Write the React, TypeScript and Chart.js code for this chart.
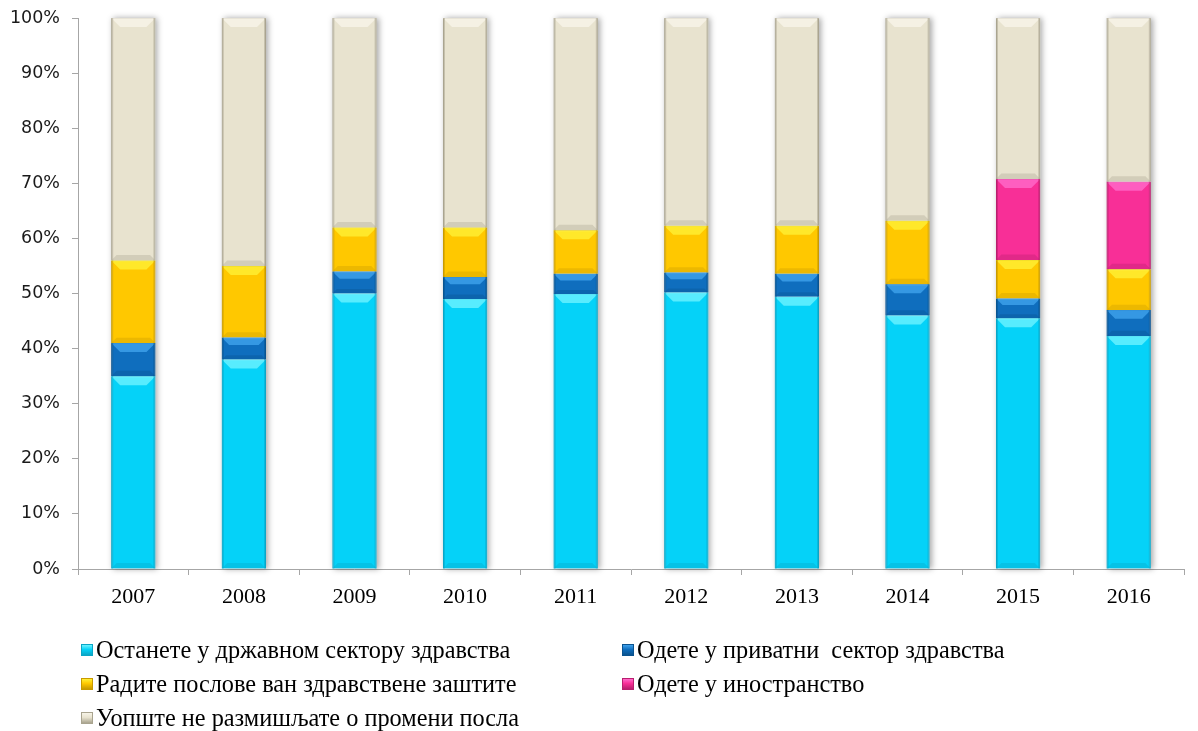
import React, { useEffect, useRef } from "react";
import { Chart, registerables } from "chart.js";

Chart.register(...registerables);

const YEARS = ["2007", "2008", "2009", "2010", "2011", "2012", "2013", "2014", "2015", "2016"];

const STAY_PUBLIC = [35, 38, 50, 49, 49.9, 50.2, 49.4, 46.0, 45.5, 42.3];
const GO_PRIVATE = [6, 4, 4, 4, 3.7, 3.6, 4.2, 5.7, 3.6, 4.7];
const WORK_OUTSIDE = [15, 13, 8, 9, 7.9, 8.5, 8.7, 11.5, 7.0, 7.4];
const GO_ABROAD = [null, null, null, null, null, null, null, null, 14.7, 15.9];
const NO_CHANGE = [44, 45, 38, 38, 38.5, 37.7, 37.7, 36.8, 29.2, 29.7];

const Y_TICKS = [0, 10, 20, 30, 40, 50, 60, 70, 80, 90, 100];

const LABELS = [
  "Останете у државном сектору здравства",
  "Одете у приватни  сектор здравства",
  "Радите послове ван здравствене заштите",
  "Одете у иностранство",
  "Уопште не размишљате о промени посла",
];

const FILL = ["#05D2F8", "#0F6EBE", "#FFC800", "#F82F97", "#E8E3CF"];
const LIGHT = ["#6DF3FF", "#3FA2EC", "#FFF035", "#FF6ACB", "#F7F4E8"];
const DARK = ["#0AA6C6", "#0A538F", "#C89A00", "#B81F6E", "#A9A48F"];

const bevelPlugin = {
  id: "bevel",
  afterDatasetsDraw(chart: any) {
    const ctx = chart.ctx;
    chart.data.datasets.forEach((ds: any, di: number) => {
      const meta = chart.getDatasetMeta(di);
      meta.data.forEach((bar: any, i: number) => {
        if (ds.data[i] == null) return;
        const { x, y, base, width } = bar.getProps(["x", "y", "base", "width"], true);
        const left = x - width / 2;
        const right = x + width / 2;
        const top = Math.min(y, base);
        const bottom = Math.max(y, base);
        const h = bottom - top;
        if (h < 1) return;
        const b = Math.min(9, h / 3);
        ctx.save();
        ctx.fillStyle = LIGHT[di];
        ctx.globalAlpha = 0.8;
        ctx.beginPath();
        ctx.moveTo(left, top);
        ctx.lineTo(right, top);
        ctx.lineTo(right - b, top + b);
        ctx.lineTo(left + b, top + b);
        ctx.closePath();
        ctx.fill();
        ctx.fillStyle = DARK[di];
        ctx.globalAlpha = 0.35;
        ctx.beginPath();
        ctx.moveTo(left, bottom);
        ctx.lineTo(right, bottom);
        ctx.lineTo(right - b * 0.6, bottom - b * 0.6);
        ctx.lineTo(left + b * 0.6, bottom - b * 0.6);
        ctx.closePath();
        ctx.fill();
        ctx.globalAlpha = 0.55;
        ctx.fillStyle = DARK[di];
        ctx.fillRect(left, top, 2, h);
        ctx.fillRect(right - 2, top, 2, h);
        ctx.restore();
      });
    });
  },
};

const shadowPlugin = {
  id: "barShadow",
  beforeDatasetsDraw(chart: any) {
    const ctx = chart.ctx;
    const meta = chart.getDatasetMeta(0);
    const last = chart.getDatasetMeta(chart.data.datasets.length - 1);
    meta.data.forEach((bar: any, i: number) => {
      const { x, base, width } = bar.getProps(["x", "base", "width"], true);
      const topBar = last.data[i];
      const top = topBar.getProps(["y"], true).y;
      ctx.save();
      ctx.shadowColor = "rgba(0,0,0,0.35)";
      ctx.shadowBlur = 6;
      ctx.shadowOffsetX = 2;
      ctx.shadowOffsetY = 0;
      ctx.fillStyle = "#ffffff";
      ctx.fillRect(x - width / 2, top, width, base - top);
      ctx.restore();
    });
  },
};

export default function App() {
  const canvasRef = useRef<HTMLCanvasElement>(null);

  useEffect(() => {
    if (!canvasRef.current) return;
    const series = [STAY_PUBLIC, GO_PRIVATE, WORK_OUTSIDE, GO_ABROAD, NO_CHANGE];
    const chart = new Chart(canvasRef.current, {
      type: "bar",
      data: {
        labels: YEARS,
        datasets: series.map((d, i) => ({
          label: LABELS[i],
          data: d as any,
          backgroundColor: FILL[i],
          borderColor: DARK[i],
          borderWidth: 1,
          barPercentage: 0.4,
          categoryPercentage: 1,
        })),
      },
      options: {
        animation: false,
        responsive: false,
        maintainAspectRatio: false,
        layout: { padding: { left: 0, right: 14, top: 18, bottom: 0 } },
        plugins: {
          legend: { display: false },
          tooltip: { enabled: false },
        },
        scales: {
          x: {
            stacked: true,
            grid: {
              display: true,
              drawOnChartArea: false,
              drawTicks: true,
              tickLength: 6,
              color: "#a6a6a6",
              offset: true,
            },
            border: { display: true, color: "#a6a6a6", width: 1 },
            ticks: {
              color: "#000000",
              padding: 9,
              font: { family: "'Liberation Serif', 'Times New Roman', serif", size: 22 },
            },
            afterFit(scale: any) {
              scale.height = 51;
              scale.paddingLeft = 0;
              scale.paddingRight = 0;
            },
          },
          y: {
            stacked: true,
            min: 0,
            max: 100,
            afterBuildTicks(scale: any) {
              scale.ticks = Y_TICKS.map((v) => ({ value: v }));
            },
            grid: {
              display: true,
              drawOnChartArea: false,
              drawTicks: true,
              tickLength: 6,
              color: "#a6a6a6",
            },
            border: { display: true, color: "#a6a6a6", width: 1 },
            ticks: {
              color: "#1a1a1a",
              padding: 12,
              font: { family: "'DejaVu Sans', Verdana, sans-serif", size: 17.5 },
              callback: (v: any) => v + "%",
            },
            afterFit(scale: any) {
              scale.width = 78;
              scale.paddingTop = 0;
              scale.paddingBottom = 0;
            },
          },
        },
      },
      plugins: [shadowPlugin, bevelPlugin],
    });
    return () => chart.destroy();
  }, []);

  const legendItem = (i: number) => (
    <div style={{ display: "flex", alignItems: "center", height: 34 }}>
      <span
        style={{
          display: "inline-block",
          width: 12,
          height: 12,
          background: `linear-gradient(180deg, ${LIGHT[i]} 0%, ${FILL[i]} 45%, ${DARK[i]} 100%)`,
          border: `1px solid ${DARK[i]}`,
          marginRight: 3,
          boxSizing: "border-box",
        }}
      />
      <span>{LABELS[i]}</span>
    </div>
  );

  return (
    <div
      style={{
        position: "fixed",
        left: 0,
        top: 0,
        width: 1198,
        height: 731,
        background: "#ffffff",
      }}
    >
      <canvas ref={canvasRef} width={1198} height={620} style={{ display: "block" }} />
      <div
        style={{
          position: "absolute",
          left: 81,
          top: 633,
          display: "grid",
          gridTemplateColumns: "541px 500px",
          fontFamily: "'Liberation Serif', 'Times New Roman', serif",
          fontSize: 24.3,
          color: "#000",
          lineHeight: "34px",
          whiteSpace: "pre",
        }}
      >
        {legendItem(0)}
        {legendItem(1)}
        {legendItem(2)}
        {legendItem(3)}
        {legendItem(4)}
      </div>
    </div>
  );
}
